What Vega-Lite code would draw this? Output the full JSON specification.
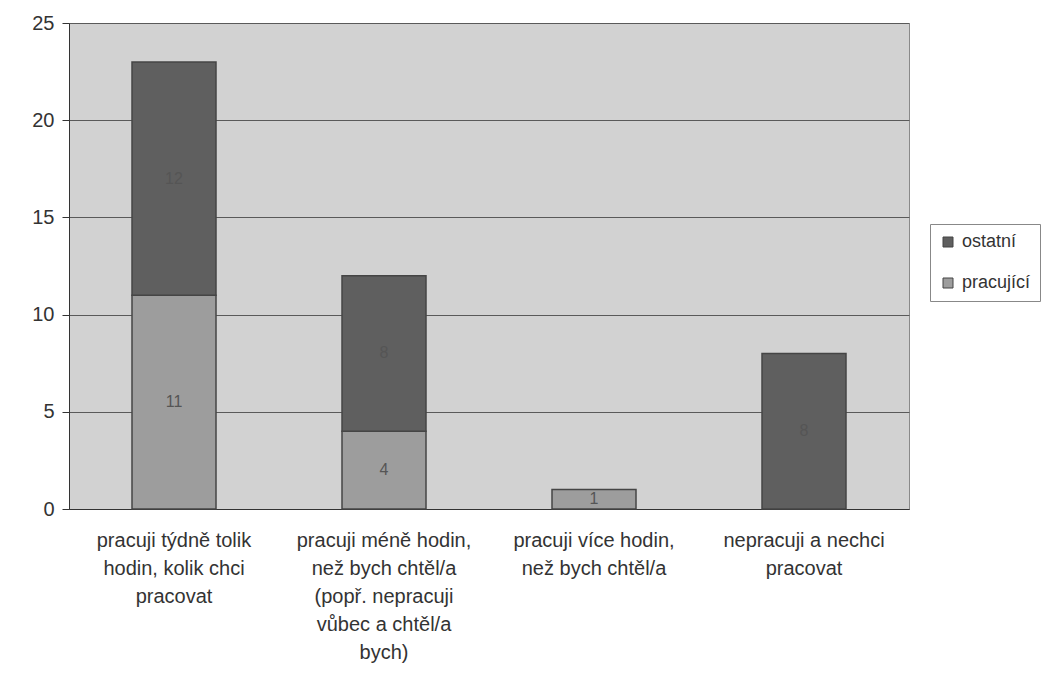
{
  "$schema": "https://vega.github.io/schema/vega-lite/v6.json",
  "width": 840,
  "height": 486,
  "autosize": "none",
  "padding": {"left": 69, "top": 23, "right": 140, "bottom": 187},
  "background": "white",
  "config": {
    "font": "Liberation Sans",
    "view": {"fill": "#d2d2d2", "stroke": "#8a8a8a", "strokeWidth": 1}
  },
  "data": {
    "values": [
      {"kategorie": "pracuji týdně tolik|hodin, kolik chci|pracovat", "skupina": "pracující", "pocet": 11},
      {"kategorie": "pracuji týdně tolik|hodin, kolik chci|pracovat", "skupina": "ostatní", "pocet": 12},
      {"kategorie": "pracuji méně hodin,|než bych chtěl/a|(popř. nepracuji|vůbec a chtěl/a|bych)", "skupina": "pracující", "pocet": 4},
      {"kategorie": "pracuji méně hodin,|než bych chtěl/a|(popř. nepracuji|vůbec a chtěl/a|bych)", "skupina": "ostatní", "pocet": 8},
      {"kategorie": "pracuji více hodin,|než bych chtěl/a", "skupina": "pracující", "pocet": 1},
      {"kategorie": "nepracuji a nechci|pracovat", "skupina": "ostatní", "pocet": 8}
    ]
  },
  "encoding": {
    "x": {
      "field": "kategorie",
      "type": "nominal",
      "sort": null,
      "scale": {"paddingInner": 0.6, "paddingOuter": 0.3},
      "axis": {
        "title": null,
        "labelAngle": 0,
        "labelExpr": "split(datum.value, '|')",
        "labelFont": "Liberation Sans",
        "labelFontSize": 20,
        "labelColor": "#333333",
        "labelLineHeight": 28,
        "labelLimit": 0,
        "labelPadding": 21,
        "ticks": false,
        "domainColor": "#333333",
        "domainWidth": 1
      }
    }
  },
  "layer": [
    {
      "mark": {"type": "bar", "stroke": "#454545", "strokeWidth": 1.5},
      "encoding": {
        "y": {
          "field": "pocet",
          "type": "quantitative",
          "stack": "zero",
          "scale": {"domain": [0, 25], "nice": false},
          "axis": {
            "title": null,
            "values": [0, 5, 10, 15, 20, 25],
            "grid": true,
            "gridColor": "#5a5a5a",
            "gridWidth": 1,
            "domainColor": "#333333",
            "tickColor": "#333333",
            "tickSize": 7,
            "labelFont": "Liberation Sans",
            "labelFontSize": 20,
            "labelColor": "#333333",
            "labelPadding": 8
          }
        },
        "color": {
          "field": "skupina",
          "type": "nominal",
          "scale": {"domain": ["ostatní", "pracující"], "range": ["#5f5f5f", "#9d9d9d"]},
          "legend": {
            "title": null,
            "orient": "none",
            "legendX": 861,
            "legendY": 201,
            "fillColor": "white",
            "strokeColor": "#888888",
            "padding": 9,
            "symbolType": "square",
            "symbolSize": 100,
            "symbolStrokeColor": "#444444",
            "symbolStrokeWidth": 1,
            "labelFont": "Liberation Sans",
            "labelFontSize": 18,
            "labelColor": "#333333",
            "labelOffset": 5,
            "rowPadding": 23
          }
        },
        "order": {"field": "skupina", "sort": "descending"}
      }
    },
    {
      "mark": {"type": "text", "fontSize": 16, "color": "#555555", "font": "Liberation Sans"},
      "encoding": {
        "y": {"field": "pocet", "type": "quantitative", "stack": "zero", "bandPosition": 0.5},
        "detail": {"field": "skupina"},
        "order": {"field": "skupina", "sort": "descending"},
        "text": {"field": "pocet", "type": "quantitative"}
      }
    }
  ]
}
